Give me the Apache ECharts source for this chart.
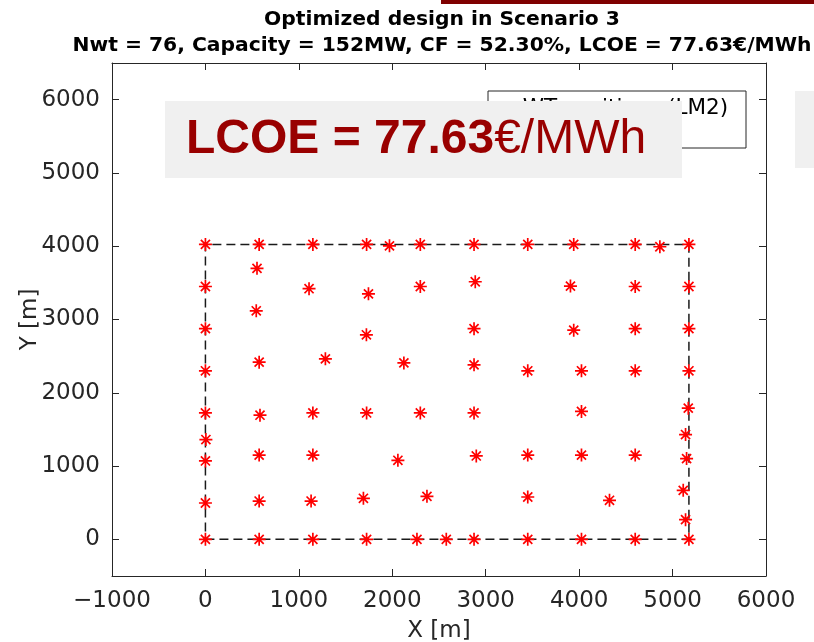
<!DOCTYPE html>
<html>
<head>
<meta charset="utf-8">
<title>Optimized design in Scenario 3</title>
<script src="https://cdn.jsdelivr.net/npm/echarts@6/dist/echarts.min.js"></script>
<style>
  html, body { margin: 0; padding: 0; background: #ffffff; }
  #chart { width: 814px; height: 642px; }
</style>
</head>
<body>
<div id="chart"></div>
<script>
// Wind turbine layout (metres)
const turbineX = [
  0, 575, 1150, 1725, 1970, 2300, 2875,
  552, 0, 1109, 1745, 2300, 2888,
  544, 0, 1723, 2875,
  0, 575, 1284, 2124, 2875,
  3450, 3942, 4600, 4864, 5175,
  3907, 4600, 5175,
  3942, 4600, 5175,
  3450, 4025, 4600, 5175,
  0, 584, 1150, 1725, 2300, 2875,
  5, 0, 575, 1150, 2060, 2899,
  0, 575, 1131, 1691, 2371,
  0, 575, 1150, 1725, 2264, 2578, 2875,
  4025, 5168, 5139,
  3450, 4025, 4600, 5150,
  3450, 4325, 5114, 5139,
  3450, 4025, 4600, 5175
];
const turbineY = [
  4025, 4025, 4025, 4025, 4005, 4025, 4025,
  3698, 3450, 3420, 3350, 3450, 3515,
  3119, 2875, 2791, 2875,
  2300, 2418, 2463, 2408, 2381,
  4025, 4025, 4025, 3993, 4025,
  3456, 3450, 3450,
  2855, 2875, 2875,
  2300, 2300, 2300, 2300,
  1725, 1694, 1725, 1725, 1725, 1725,
  1362, 1070, 1150, 1150, 1079, 1138,
  496, 523, 523, 560, 587,
  0, 0, 0, 0, 0, 0, 0,
  1745, 1790, 1430,
  1150, 1150, 1150, 1102,
  578, 533, 669, 269,
  0, 0, 0, 0
];

// Site boundary (closed polygon)
const boundaryX = [0, 5175, 5175, 0, 0];
const boundaryY = [0, 0, 4025, 4025, 0];

// Axis ticks
const xTicks = [-1000, 0, 1000, 2000, 3000, 4000, 5000, 6000];
const yTicks = [0, 1000, 2000, 3000, 4000, 5000, 6000];

const titleLines = [
  'Optimized design in Scenario 3',
  'Nwt = 76, Capacity = 152MW, CF = 52.30%, LCOE = 77.63€/MWh'
];
const seriesName = 'WT positions (LM2)';

const asterisk = 'path://M0,-10L0,10M-10,0L10,0M-7,-7L7,7M-7,7L7,-7';
const axisColor = '#262626';
const tickFont = { fontFamily: 'DejaVu Sans', fontSize: 23, color: axisColor };

// plain numbers, true minus sign for negatives
const fmt = v => (v < 0 ? '\u2212' + Math.abs(v) : String(v));

const chart = echarts.init(document.getElementById('chart'), null, { renderer: 'canvas' });

function frameAxis(extra) {
  return Object.assign({
    type: 'value',
    axisLine: { show: true, onZero: false, lineStyle: { color: axisColor, width: 1 } },
    splitLine: { show: false }
  }, extra);
}

chart.setOption({
  animation: false,
  backgroundColor: '#ffffff',
  title: {
    text: titleLines.join('\n'),
    left: 437,
    top: 2,
    textAlign: 'center',
    textStyle: {
      fontFamily: 'DejaVu Sans',
      fontWeight: 'bold',
      fontSize: 20.3,
      lineHeight: 26,
      color: '#000000'
    }
  },
  grid: { left: 112, right: 48, top: 63, bottom: 66, outerBoundsMode: 'none', containLabel: false },
  xAxis: [
    frameAxis({
      position: 'bottom',
      min: -1000, max: 6000,
      name: 'X [m]', nameLocation: 'middle', nameGap: 44, nameMoveOverlap: false,
      nameTextStyle: tickFont,
      axisTick: { show: true, inside: true, length: 7, customValues: xTicks, lineStyle: { color: axisColor } },
      axisLabel: Object.assign({ show: true, margin: 14, customValues: xTicks, formatter: fmt }, tickFont)
    }),
    frameAxis({
      position: 'top',
      min: -1000, max: 6000,
      axisTick: { show: true, inside: true, length: 7, customValues: xTicks, lineStyle: { color: axisColor } },
      axisLabel: { show: false }
    })
  ],
  yAxis: [
    frameAxis({
      position: 'left',
      min: -500, max: 6500,
      name: 'Y [m]', nameLocation: 'middle', nameGap: 70, nameRotate: 90, nameMoveOverlap: false,
      nameTextStyle: tickFont,
      axisTick: { show: true, inside: true, length: 7, customValues: yTicks, lineStyle: { color: axisColor } },
      axisLabel: Object.assign({ show: true, margin: 12, customValues: yTicks, formatter: fmt }, tickFont)
    }),
    frameAxis({
      position: 'right',
      min: -500, max: 6500,
      axisTick: { show: true, inside: true, length: 7, customValues: yTicks, lineStyle: { color: axisColor } },
      axisLabel: { show: false }
    })
  ],
  legend: {
    data: [seriesName],
    left: 500,
    top: 97,
    padding: 0,
    itemWidth: 22,
    itemHeight: 12,
    icon: asterisk,
    itemStyle: { color: 'rgba(0,0,0,0)', borderColor: '#ff0000', borderWidth: 1.5 },
    textStyle: { fontFamily: 'DejaVu Sans', fontSize: 21.5, lineHeight: 20, color: '#000000' },
    z: 5
  },
  series: [
    {
      name: 'boundary',
      type: 'line',
      data: boundaryX.map((x, i) => [x, boundaryY[i]]),
      showSymbol: false,
      symbol: 'none',
      lineStyle: { color: '#1a1a1a', width: 1.5, type: [9, 5] },
      silent: true,
      z: 1
    },
    {
      name: seriesName,
      type: 'scatter',
      data: turbineX.map((x, i) => [x, turbineY[i]]),
      symbol: asterisk,
      symbolSize: 13,
      itemStyle: { color: 'rgba(0,0,0,0)', borderColor: '#ff0000', borderWidth: 1.7, opacity: 1 },
      z: 3
    }
  ],
  graphic: [
    // legend frame
    { type: 'rect', z: 4, shape: { x: 488, y: 91, width: 258, height: 57 },
      style: { fill: '#ffffff', stroke: axisColor, lineWidth: 1 } },
    // accent bar
    { type: 'rect', z: 10, shape: { x: 441, y: 0, width: 373, height: 4 },
      style: { fill: '#7f0000' } },
    // side panel
    { type: 'rect', z: 10, shape: { x: 795, y: 91, width: 19, height: 77 },
      style: { fill: '#f0f0f0' } },
    // LCOE banner
    { type: 'rect', z: 10, shape: { x: 165, y: 101, width: 517, height: 77 },
      style: { fill: '#f0f0f0' } },
    { type: 'text', z: 11, x: 186, y: 140,
      style: {
        text: '{b|LCOE = 77.63}{n|€/MWh}',
        verticalAlign: 'middle',
        rich: {
          b: { fontFamily: 'Liberation Sans', fontWeight: 'bold', fontSize: 48, fill: '#990000' },
          n: { fontFamily: 'Liberation Sans', fontWeight: 'normal', fontSize: 48, fill: '#990000' }
        }
      } }
  ]
});
</script>
</body>
</html>
